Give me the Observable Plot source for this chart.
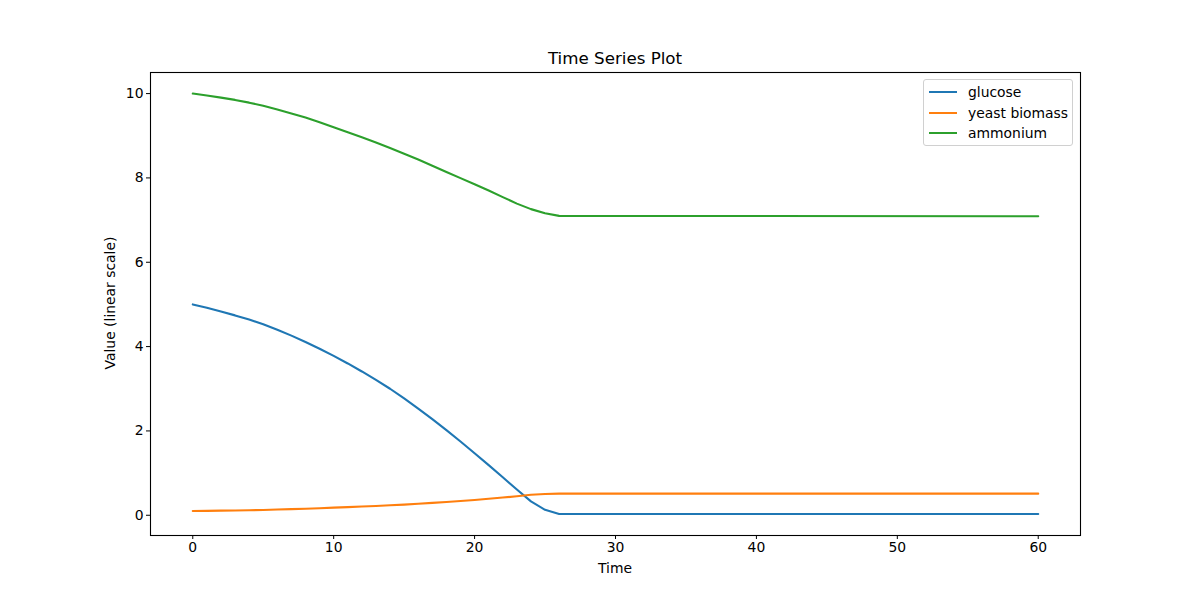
<!DOCTYPE html>
<html><head><meta charset="utf-8">
<script src="https://cdn.jsdelivr.net/npm/d3@7"></script>
<script src="https://cdn.jsdelivr.net/npm/@observablehq/plot@0.6"></script>
<style>
body{margin:0;background:#fff;font-family:"DejaVu Sans",sans-serif;}
#wrap{position:relative;width:1200px;height:600px;}
.t{position:absolute;white-space:nowrap;color:#000;font-family:"DejaVu Sans",sans-serif;}
#legend{position:absolute;left:923px;top:79px;width:148px;height:65px;border:1px solid #d0d0d0;border-radius:3px;background:rgba(255,255,255,0.8);}
.sw{position:absolute;left:5px;width:28px;height:0;border-top:2.1px solid;}
.lt{position:absolute;left:44px;font-size:13.9px;line-height:16px;white-space:nowrap;}
</style></head><body><div id="wrap"></div>
<script>
const time = [0,1,2,3,4,5,6,7,8,9,10,11,12,13,14,15,16,17,18,19,20,21,22,23,24,25,26,60];
const glucose = [5.00,4.92,4.83,4.74,4.64,4.53,4.40,4.26,4.11,3.95,3.78,3.60,3.41,3.21,3.00,2.77,2.53,2.28,2.02,1.75,1.47,1.19,0.90,0.61,0.33,0.13,0.03,0.03];
const yeast = [0.100,0.104,0.109,0.114,0.120,0.126,0.136,0.146,0.156,0.167,0.180,0.193,0.207,0.221,0.236,0.252,0.272,0.293,0.315,0.338,0.362,0.390,0.420,0.450,0.485,0.505,0.512,0.512];
const ammonium = [10.00,9.955,9.905,9.85,9.785,9.71,9.625,9.53,9.43,9.32,9.20,9.085,8.965,8.84,8.71,8.575,8.435,8.29,8.14,7.995,7.85,7.70,7.545,7.39,7.26,7.16,7.10,7.09];
const seriesNames = ["glucose","yeast biomass","ammonium"];
const seriesColors = ["#1f77b4","#ff7f0e","#2ca02c"];
const xTicks = [0,10,20,30,40,50,60];
const yTicks = [0,2,4,6,8,10];
const titleText = "Time Series Plot";
const xLabel = "Time";
const yLabel = "Value (linear scale)";

const rows = [];
[glucose, yeast, ammonium].forEach((arr, k) => arr.forEach((v, i) => rows.push({t: time[i], v, s: seriesNames[k]})));

const chart = Plot.plot({
  width: 1200, height: 600,
  marginLeft: 150, marginRight: 120, marginTop: 72, marginBottom: 65,
  style: {fontFamily: "DejaVu Sans", fontSize: "13.9px", color: "#000", background: "#fff", overflow: "visible"},
  x: {domain: [-3, 63]},
  y: {domain: [-0.48, 10.5]},
  color: {domain: seriesNames, range: seriesColors},
  marks: [
    Plot.line(rows, {x: "t", y: "v", z: "s", stroke: "s", strokeWidth: 2.1}),
    Plot.frame({stroke: "#000", strokeWidth: 1.1}),
    Plot.axisX({ticks: xTicks, tickSize: 4, tickPadding: 3, label: null, tickFormat: d => String(d), fontSize: 13.9}),
    Plot.axisY({ticks: yTicks, tickSize: 4, tickPadding: 3, label: null, tickFormat: d => String(d), fontSize: 13.9})
  ]
});
const wrap = document.getElementById("wrap");
wrap.appendChild(chart);

function addText(txt, css) {
  const d = document.createElement("div");
  d.className = "t";
  d.textContent = txt;
  Object.assign(d.style, css);
  wrap.appendChild(d);
  return d;
}
addText(titleText, {left: "615px", top: "48px", fontSize: "16.7px", transform: "translateX(-50%)"});
addText(xLabel, {left: "615px", top: "560px", fontSize: "13.9px", transform: "translateX(-50%)"});
addText(yLabel, {left: "110px", top: "303px", fontSize: "13.9px", transform: "translate(-50%,-50%) rotate(-90deg)"});

const lg = document.createElement("div");
lg.id = "legend";
seriesNames.forEach((n, i) => {
  const sw = document.createElement("div");
  sw.className = "sw";
  sw.style.top = (11 + i * 20.7) + "px";
  sw.style.borderColor = seriesColors[i];
  lg.appendChild(sw);
  const t = document.createElement("div");
  t.className = "lt";
  t.style.top = (4 + i * 20.7) + "px";
  t.textContent = n;
  lg.appendChild(t);
});
wrap.appendChild(lg);
</script></body></html>
